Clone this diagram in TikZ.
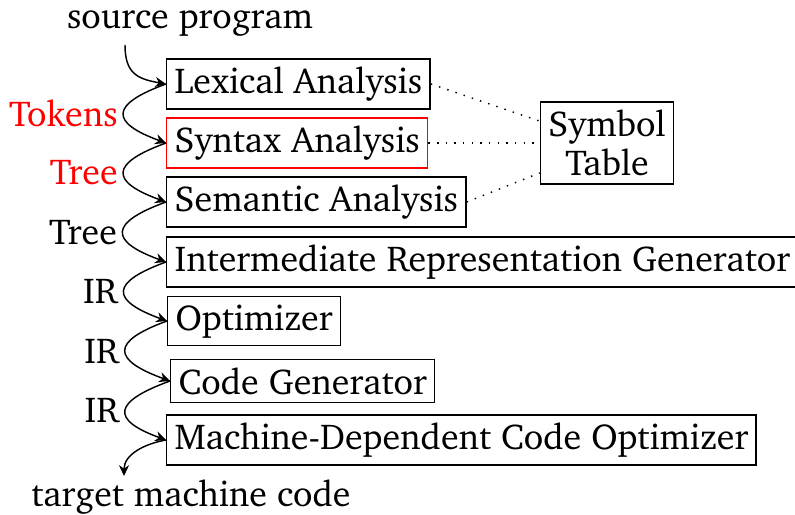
\documentclass[tikz,border=0pt]{standalone}
\usepackage[T1]{fontenc}
\usepackage{charter}
\usetikzlibrary{arrows.meta}
\begin{document}
\begin{tikzpicture}[x=0.2778pt,y=-0.2778pt,
  box/.style={draw, line width=0.4pt, inner sep=2.2pt, anchor=west},
  flow/.style={-{Stealth[length=3pt,width=2.8pt]}, line width=0.4pt},
  lbl/.style={left, inner sep=1.5pt},
  link/.style={dotted, line width=0.4pt}]
\useasboundingbox (0,0) rectangle (795,515);
\node[anchor=base] (src) at (190,29) {source program};
\node[anchor=base] (tgt) at (191,507) {target machine code};
\coordinate (s0) at (125,45);
\coordinate (t0) at (124,476);
\node[box] (lex) at (166,84) {Lexical Analysis};
\node[box, draw=red] (syn) at (166,143) {Syntax Analysis};
\node[box] (sem) at (166,202) {Semantic Analysis};
\node[box] (irg) at (166,262) {Intermediate Representation Generator};
\node[box] (opt) at (167,321) {Optimizer};
\node[box] (cg) at (170,381) {Code Generator};
\node[box] (mdo) at (166,440) {Machine-Dependent Code Optimizer};
\node[draw, line width=0.4pt, align=center, inner sep=2.2pt, font=\fontsize{10}{10.8}\selectfont] (sym) at (607,143) {Symbol\\Table};
\draw[flow] (s0) to[out=-90,in=170,looseness=1.3] (lex.west);
\draw[flow] (lex.west) to[out=200,in=160,looseness=2.6] node[lbl, text=red] {Tokens} (syn.west);
\draw[flow] (syn.west) to[out=200,in=160,looseness=2.6] node[lbl, text=red] {Tree} (sem.west);
\draw[flow] (sem.west) to[out=200,in=160,looseness=2.6] node[lbl] {Tree} (irg.west);
\draw[flow] (irg.west) to[out=200,in=160,looseness=2.6] node[lbl] {IR} (opt.west);
\draw[flow] (opt.west) to[out=200,in=160,looseness=2.6] node[lbl] {IR} (cg.west);
\draw[flow] (cg.west) to[out=200,in=160,looseness=2.6] node[lbl] {IR} (mdo.west);
\draw[flow] (mdo.west) to[out=190,in=90,looseness=1] (t0);
\draw[link] (lex.east) -- (sym.162);
\draw[link] (syn.east) -- (sym.west);
\draw[link] (sem.east) -- (sym.204);
\end{tikzpicture}
\end{document}
